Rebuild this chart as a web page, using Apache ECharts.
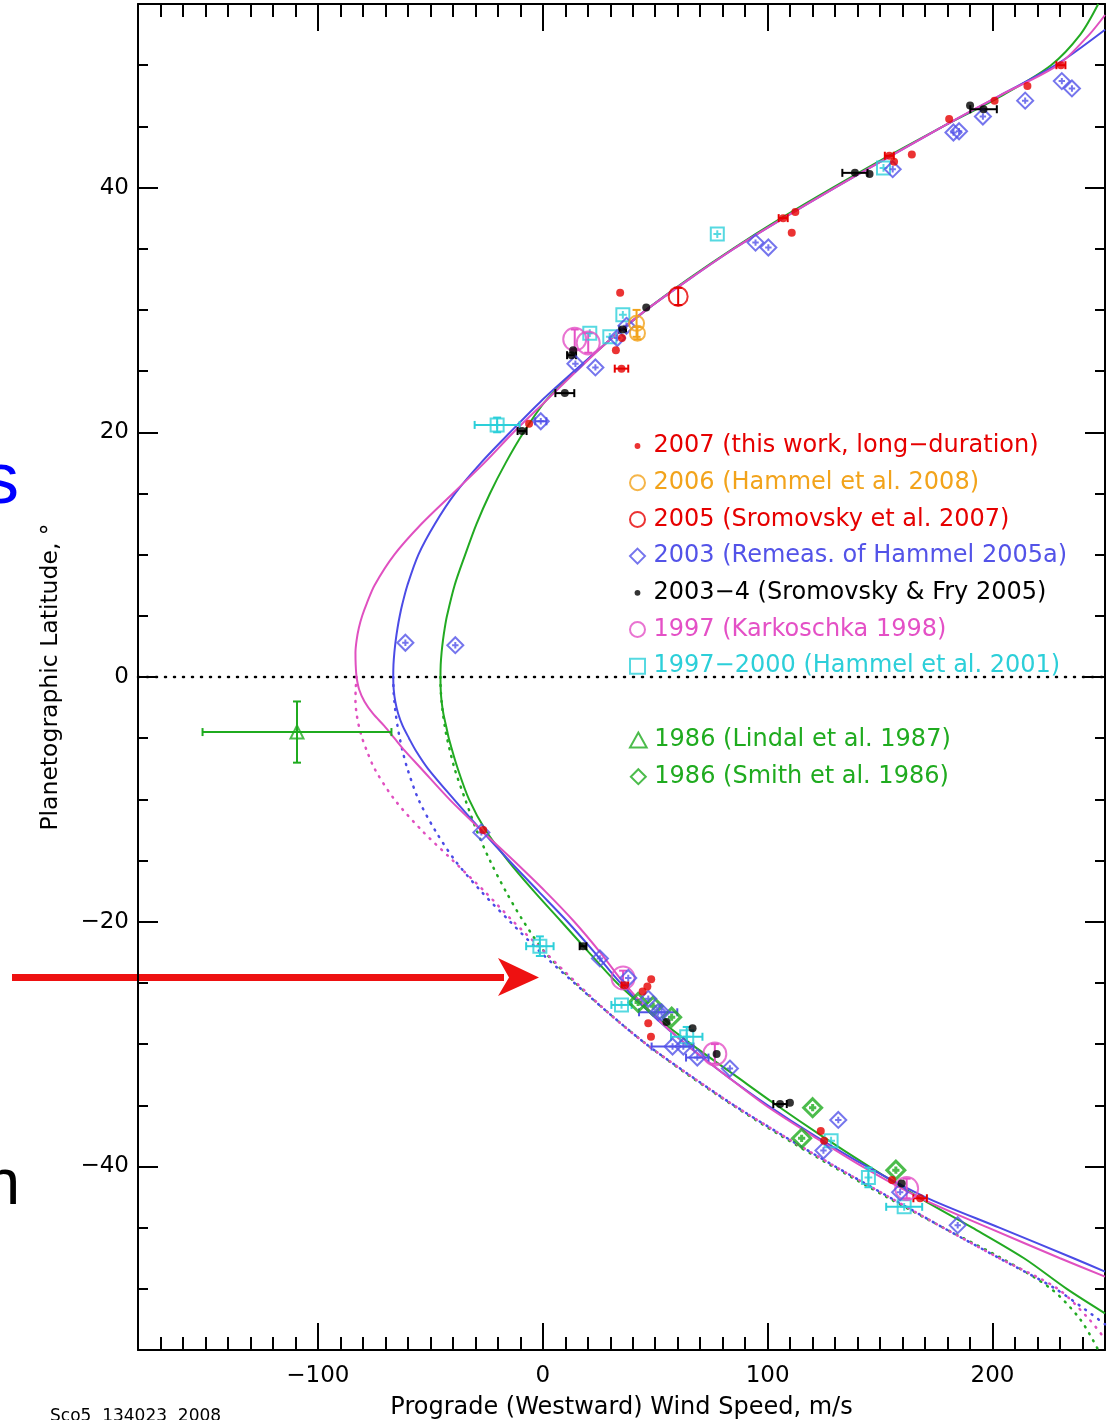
<!DOCTYPE html>
<html lang="en">
<head>
<meta charset="UTF-8">
<title>Uranus zonal wind profile</title>
<script src="https://cdn.jsdelivr.net/npm/echarts@6.0.0/dist/echarts.min.js"></script>
<style>
  * { margin: 0; padding: 0; box-sizing: border-box; }
  body { background: #fff; }
  #chart { width: 1109px; height: 1420px; }
</style>
</head>
<body>
<div id="chart"></div>
<script>
// observations: [wind speed m/s, latitude deg, speed error, latitude error]
const obs2007 = [
  [230.4, 50.0, 2, 0], [215.5, 48.3, 0, 0], [200.9, 47.1, 0, 0], [180.7, 45.6, 0, 0],
  [164.1, 42.7, 0, 0], [154.1, 42.6, 2, 0], [156.2, 42.1, 0, 0], [112.3, 38.0, 0, 0],
  [106.9, 37.5, 2, 0], [110.7, 36.3, 0, 0], [34.4, 31.4, 0, 0], [35.2, 27.7, 0, 0],
  [32.5, 26.7, 0, 0], [35.0, 25.2, 3, 0], [-6.1, 20.7, 0, 0], [-26.5, -12.5, 0, 0],
  [48.2, -24.7, 0, 0], [36.5, -25.2, 1.5, 0], [44.4, -25.7, 0, 0], [46.5, -25.3, 0, 0],
  [46.9, -28.3, 0, 0], [48.1, -29.4, 0, 0], [123.6, -37.1, 0, 0], [125.1, -37.9, 0, 0],
  [155.3, -41.1, 0, 0], [167.8, -42.6, 3, 0]
];
const obs2006 = [[41.7, 28.9, 0, 1.1], [42.1, 28.1, 0, 0.5]];
const obs2005 = [[60.2, 31.1, 0, 0.7]];
const obs2003 = [
  [230.8, 48.7, 0, 0], [235.3, 48.1, 0, 0], [214.5, 47.1, 0, 0], [195.7, 45.8, 0, 0],
  [182.6, 44.5, 0, 0], [185.1, 44.6, 0, 0], [155.6, 41.5, 0, 0], [94.6, 35.5, 0, 0],
  [100.3, 35.1, 0, 0], [37.2, 28.7, 0, 0], [33.1, 27.7, 0, 0], [14.5, 25.6, 0, 0],
  [23.4, 25.3, 0, 0], [-0.9, 20.9, 2.5, 0], [-61.1, 2.8, 0, 0], [-38.9, 2.6, 0, 0],
  [-27.3, -12.7, 0, 0], [25.4, -23.0, 0, 0], [38.0, -24.6, 0, 0], [46.9, -26.3, 0, 0],
  [51.3, -27.4, 8.5, 0], [52.8, -27.4, 0, 0], [57.7, -30.2, 9.3, 0], [62.5, -30.2, 0, 0],
  [68.7, -31.1, 5, 0], [83.2, -32.0, 0, 0], [131.4, -36.2, 0, 0], [124.8, -38.7, 0, 0],
  [158.9, -42.1, 0, 0], [184.5, -44.8, 0, 0]
];
const obs2003_4 = [
  [138.8, 41.2, 5.6, 0], [145.3, 41.1, 0, 0], [190.0, 46.7, 0, 0], [196.0, 46.4, 5.9, 0],
  [46.0, 30.2, 0, 0], [35.5, 28.4, 1.5, 0], [13.5, 26.7, 0, 0], [12.8, 26.3, 2, 0],
  [9.8, 23.2, 4.2, 0], [-9.2, 20.1, 2, 0], [17.9, -22.0, 1.5, 0], [55.0, -28.2, 0, 0],
  [66.6, -28.7, 0, 0], [77.3, -30.8, 0, 0], [105.5, -34.9, 3, 0], [109.9, -34.8, 0, 0],
  [159.6, -41.4, 0, 0]
];
const obs1997 = [
  [14.2, 27.6, 0, 0.8], [20.2, 27.3, 0, 0.8], [35.7, -24.6, 0, 0.6],
  [76.5, -30.8, 0, 0.8], [161.8, -41.8, 0, 0.8]
];
const obs1997_2000 = [
  [77.6, 36.2, 0, 0], [151.5, 41.6, 0, 0], [35.6, 29.6, 0, 0], [20.9, 28.1, 0, 0],
  [29.8, 27.8, 0, 0], [-20.3, 20.6, 10, 0.6], [-1.3, -22.0, 6.1, 0.8], [35.0, -26.8, 4.5, 0],
  [64.0, -29.4, 7, 0.8], [128.2, -37.9, 0, 0], [144.8, -40.9, 0, 0.8], [160.7, -43.3, 8, 0]
];
const obsLindal = [[-109.3, -4.5, 42, 2.5]];
const obsSmith = [
  [42.4, -26.6, 0, 0], [49.1, -26.9, 0, 0], [57.3, -27.8, 0, 0],
  [120.0, -35.2, 0, 0], [115.1, -37.7, 0, 0], [157.0, -40.3, 0, 0]
];

// fitted profiles: [wind speed, latitude]
const fitGreen = [
  [250, -52], [233, -50], [214, -47.5], [191, -45], [167, -42.5], [145, -40], [124, -37.5],
  [104, -35], [85, -32.5], [66, -30], [48.5, -27.5], [33, -25], [20.5, -22.5], [8.3, -20],
  [-4, -17.5], [-15.5, -15], [-25.5, -12.5], [-32.8, -10], [-37.8, -7.5], [-41.8, -5],
  [-43, -4], [-44.2, -3], [-45, -2], [-45.4, -1], [-45.5, 0], [-45.4, 1], [-45, 2],
  [-44.4, 3], [-43.6, 4], [-42.6, 5], [-39.2, 7.5], [-34.5, 10], [-29.5, 12.5], [-23.5, 15],
  [-16.5, 17.5], [-8.5, 20], [1, 22.5], [14.5, 25], [29.5, 27.5], [46, 30], [64.5, 32.5],
  [84.5, 35], [106, 37.5], [129, 40], [153, 42.5], [178, 45], [204, 47.5], [226, 50],
  [239, 52.5], [247, 55]
];
const fitBlue = [
  [250, -48.6], [236, -47.5], [203, -45], [170, -42.5], [144, -40], [121, -37.5], [100, -35],
  [81, -32.5], [63.5, -30], [48, -27.5], [34.5, -25], [23, -22.5], [11, -20], [-2, -17.5],
  [-15, -15], [-27.5, -12.5], [-39.5, -10], [-51, -7.5], [-56.5, -6], [-59.5, -5],
  [-62.3, -4], [-64.3, -3], [-65.6, -2], [-66.3, -1], [-66.5, 0], [-66.4, 1], [-66, 2],
  [-65.4, 3], [-64.6, 4], [-63.6, 5], [-62.4, 6], [-60.2, 7.5], [-55.3, 10], [-48, 12.5],
  [-39, 15], [-27.5, 17.5], [-14.5, 20], [-1, 22.5], [14, 25], [29.5, 27.5], [46, 30],
  [65, 32.5], [85, 35], [107, 37.5], [130, 40], [154, 42.5], [178, 45], [203, 47.5],
  [228, 50], [250, 52.9]
];
const fitPink = [
  [250, -49], [230, -47.5], [198, -45], [167, -42.5], [142, -40], [120, -37.5], [99, -35],
  [81, -32.5], [63.5, -30], [48.5, -27.5], [36, -25], [25.5, -22.5], [14, -20], [1, -17.5],
  [-13, -15], [-27.5, -12.5], [-41.5, -10], [-54, -7.5], [-61.5, -6], [-66, -5],
  [-70.5, -4], [-75.5, -3], [-79.3, -2], [-81.7, -1], [-82.8, 0], [-83.2, 1], [-83.3, 2],
  [-82.8, 3], [-81.8, 4], [-80.3, 5], [-78.3, 6], [-74.8, 7.5], [-66, 10], [-54, 12.5],
  [-40, 15], [-26, 17.5], [-13, 20], [1, 22.5], [15, 25], [29.5, 27.5], [46, 30],
  [65, 32.5], [85, 35], [107, 37.5], [130, 40], [154, 42.5], [178, 45], [203, 47.5],
  [229, 50], [243, 52.5], [250, 54.1]
];
// northern profiles reflected into the south (dotted)
const dotGreen = [
  [-45.5, 0], [-45.4, -1], [-45, -2], [-44.4, -3], [-43.6, -4], [-42.6, -5], [-39.2, -7.5],
  [-34.5, -10], [-29.5, -12.5], [-23.5, -15], [-16.5, -17.5], [-8.5, -20], [1, -22.5],
  [14.5, -25], [29.5, -27.5], [46, -30], [64.5, -32.5], [84.5, -35], [106, -37.5],
  [129, -40], [153, -42.5], [178, -45], [204, -47.5], [226, -50], [239, -52.5], [247, -55]
];
const dotBlue = [
  [-66.5, 0], [-66.4, -1], [-66, -2], [-65.4, -3], [-64.6, -4], [-63.6, -5], [-62.4, -6],
  [-60.2, -7.5], [-55.3, -10], [-48, -12.5], [-39, -15], [-27.5, -17.5], [-14.5, -20],
  [-1, -22.5], [14, -25], [29.5, -27.5], [46, -30], [65, -32.5], [85, -35], [107, -37.5],
  [130, -40], [154, -42.5], [178, -45], [203, -47.5], [228, -50], [250, -52.9]
];
const dotPink = [
  [-82.8, 0], [-83.2, -1], [-83.3, -2], [-82.8, -3], [-81.8, -4], [-80.3, -5], [-78.3, -6],
  [-74.8, -7.5], [-66, -10], [-54, -12.5], [-40, -15], [-26, -17.5], [-13, -20], [1, -22.5],
  [15, -25], [29.5, -27.5], [46, -30], [65, -32.5], [85, -35], [107, -37.5], [130, -40],
  [154, -42.5], [178, -45], [203, -47.5], [229, -50], [243, -52.5], [250, -54.1]
];
const equator = [[-180, 0], [250, 0]];

const xMajor = [-100, 0, 100, 200];
const yMajor = [-40, -20, 0, 20, 40];

const RED = '#e60000', ORANGE = '#f2a31b', BLUE = '#5353e8', PINK = '#e450c6',
  CYAN = '#2ccfd9', GREEN = '#1fab1f', BLACK = '#000';
const FONT = 'DejaVu Sans';

const diamondPath = 'path://M0,-10L10,0L0,10L-10,0Z M0,-4L0,4 M-4,0L4,0';
const squarePath = 'path://M-10,-10L10,-10L10,10L-10,10Z M0,-6L0,6 M-6,0L6,0';
// legend icons kept square / small
const dotIcon = 'path://M-9,-9M9,9M3.5,0A3.5,3.5,0,1,1,-3.5,0A3.5,3.5,0,1,1,3.5,0Z';
const diamondIcon = 'path://M0,-10L10,0L0,10L-10,0Z';
const squareIcon = 'path://M-9,-9L9,-9L9,9L-9,9Z';
const triangleIcon = 'path://M0,-10L10,8L-10,8Z';

const minus = v => String(v).replace('-', '\u2212');

function axisX(pos, major) {
  return {
    type: 'value', min: -180, max: 250, position: pos,
    interval: major ? undefined : 10,
    axisLine: { show: !major, onZero: false, lineStyle: { color: BLACK, width: 2 } },
    axisTick: major
      ? { inside: true, length: 27, customValues: xMajor, lineStyle: { color: BLACK, width: 2 } }
      : { inside: true, length: 13, lineStyle: { color: BLACK, width: 2 } },
    axisLabel: { show: false },
    splitLine: { show: false }
  };
}
function axisY(pos, major) {
  return {
    type: 'value', min: -55, max: 55, position: pos,
    interval: major ? undefined : 5,
    axisLine: { show: !major, onZero: false, lineStyle: { color: BLACK, width: 2 } },
    axisTick: major
      ? { inside: true, length: 20, customValues: yMajor, lineStyle: { color: BLACK, width: 2 } }
      : { inside: true, length: 10, lineStyle: { color: BLACK, width: 2 } },
    axisLabel: { show: false },
    splitLine: { show: false }
  };
}

const xAxes = [axisX('bottom', false), axisX('bottom', true), axisX('top', false), axisX('top', true)];
Object.assign(xAxes[0], {
  axisLabel: { show: true, customValues: xMajor, formatter: minus, margin: 15, color: BLACK, fontSize: 23, fontFamily: FONT },
  name: 'Prograde (Westward) Wind Speed, m/s', nameLocation: 'middle', nameGap: 46,
  nameTextStyle: { color: BLACK, fontSize: 24, fontFamily: FONT }
});
const yAxes = [axisY('left', false), axisY('left', true), axisY('right', false), axisY('right', true)];
Object.assign(yAxes[0], {
  axisLabel: { show: true, customValues: yMajor, formatter: minus, margin: 9, color: BLACK, fontSize: 23, fontFamily: FONT },
  name: 'Planetographic Latitude, \u00b0', nameLocation: 'middle', nameGap: 75,
  nameTextStyle: { color: BLACK, fontSize: 23.5, fontFamily: FONT }
});

function curve(data, color, dotted) {
  return {
    type: 'line', data: data, smooth: 0.3, showSymbol: false, symbol: 'none', silent: true, z: 2,
    lineStyle: dotted
      ? { color: color, width: 2.5, type: [1, 7], cap: 'round' }
      : { color: color, width: 2 }
  };
}

function scatter(name, data, symbol, size, style, z) {
  return {
    name: name, type: 'scatter', data: data.map(d => [d[0], d[1]]),
    symbol: symbol, symbolSize: size, itemStyle: style, silent: true, z: z || 5
  };
}

function errorBars(data, color) {
  return {
    type: 'custom', silent: true, z: 4,
    data: data.filter(d => d[2] > 0 || d[3] > 0),
    encode: { x: 0, y: 1 },
    renderItem: function (params, api) {
      const v = api.value(0), lat = api.value(1), ex = api.value(2), ey = api.value(3);
      const st = { stroke: color, lineWidth: 2 };
      const kids = [];
      const seg = (x1, y1, x2, y2) => kids.push({ type: 'line', shape: { x1, y1, x2, y2 }, style: st });
      if (ex > 0) {
        const a = api.coord([v - ex, lat]), b = api.coord([v + ex, lat]);
        seg(a[0], a[1], b[0], b[1]);
        seg(a[0], a[1] - 4, a[0], a[1] + 4);
        seg(b[0], b[1] - 4, b[0], b[1] + 4);
      }
      if (ey > 0) {
        const a = api.coord([v, lat + ey]), b = api.coord([v, lat - ey]);
        seg(a[0], a[1], b[0], b[1]);
        seg(a[0] - 4, a[1], a[0] + 4, a[1]);
        seg(b[0] - 4, b[1], b[0] + 4, b[1]);
      }
      return { type: 'group', children: kids };
    }
  };
}

const open = c => ({ color: 'rgba(0,0,0,0)', borderColor: c, borderWidth: 2 });

const N2007 = '2007 (this work, long\u2212duration)';
const N2006 = '2006 (Hammel et al. 2008)';
const N2005 = '2005 (Sromovsky et al. 2007)';
const N2003 = '2003 (Remeas. of Hammel 2005a)';
const N2003_4 = '2003\u22124 (Sromovsky & Fry 2005)';
const N1997 = '1997 (Karkoschka 1998)';
const N1997_2000 = '1997\u22122000 (Hammel et al. 2001)';
const NLindal = '1986 (Lindal et al. 1987)';
const NSmith = '1986 (Smith et al. 1986)';

const legendText = { fontSize: 24, fontFamily: FONT, lineHeight: 24 };
const legendBase = {
  orient: 'vertical', left: 629, padding: 0, itemWidth: 22, itemHeight: 15, itemGap: 12.7,
  selectedMode: false, textStyle: legendText
};

const chart = echarts.init(document.getElementById('chart'), null, { renderer: 'canvas' });
chart.setOption({
  backgroundColor: '#fff',
  animation: false,
  grid: { left: 138, right: 4, top: 4, bottom: 70, containLabel: false, outerBoundsMode: 'none' },
  xAxis: xAxes,
  yAxis: yAxes,
  legend: [
    Object.assign({}, legendBase, {
      top: 434,
      data: [
        { name: N2007, icon: dotIcon, itemStyle: { color: RED }, textStyle: { color: RED } },
        { name: N2006, icon: 'circle', itemStyle: open(ORANGE), textStyle: { color: ORANGE } },
        { name: N2005, icon: 'circle', itemStyle: open(RED), textStyle: { color: RED } },
        { name: N2003, icon: diamondIcon, itemStyle: open(BLUE), textStyle: { color: BLUE } },
        { name: N2003_4, icon: dotIcon, itemStyle: { color: BLACK }, textStyle: { color: BLACK } },
        { name: N1997, icon: 'circle', itemStyle: open(PINK), textStyle: { color: PINK } },
        { name: N1997_2000, icon: squareIcon, itemStyle: open(CYAN), textStyle: { color: CYAN } }
      ]
    }),
    Object.assign({}, legendBase, {
      top: 728,
      data: [
        { name: NLindal, icon: triangleIcon, itemStyle: open(GREEN), textStyle: { color: GREEN } },
        { name: NSmith, icon: diamondIcon, itemStyle: open(GREEN), textStyle: { color: GREEN } }
      ]
    })
  ],
  series: [
    { type: 'line', data: equator, showSymbol: false, symbol: 'none', silent: true, z: 1,
      lineStyle: { color: BLACK, width: 2.5, type: [1, 8], cap: 'round' } },
    curve(dotGreen, '#22aa22', true),
    curve(dotBlue, '#4b4be6', true),
    curve(dotPink, '#e050c0', true),
    curve(fitGreen, '#22aa22', false),
    curve(fitBlue, '#4b4be6', false),
    curve(fitPink, '#e050c0', false),

    errorBars(obsLindal, GREEN),
    errorBars(obs1997_2000, CYAN),
    errorBars(obs1997, PINK),
    errorBars(obs2003, BLUE),
    errorBars(obs2003_4, BLACK),
    errorBars(obs2006, ORANGE),
    errorBars(obs2005, RED),
    errorBars(obs2007, RED),

    scatter(NLindal, obsLindal, 'triangle', 13, open(GREEN)),
    scatter(NSmith, obsSmith, diamondPath, 18, { color: 'rgba(0,0,0,0)', borderColor: GREEN, borderWidth: 3 }),
    scatter(N1997_2000, obs1997_2000, squarePath, 13, open(CYAN)),
    scatter(N1997, obs1997, 'circle', 23, open(PINK)),
    scatter(N2003, obs2003, diamondPath, 16, open(BLUE)),
    scatter(N2006, obs2006, 'circle', 15, open(ORANGE)),
    scatter(N2005, obs2005, 'circle', 19, open(RED)),
    scatter(N2003_4, obs2003_4, 'circle', 8, { color: BLACK }, 6),
    scatter(N2007, obs2007, 'circle', 8, { color: RED }, 6)
  ],
  graphic: {
    elements: [
      { type: 'rect', shape: { x: 12, y: 974, width: 492, height: 7 }, style: { fill: '#ee1111' }, silent: true },
      { type: 'polygon', shape: { points: [[498, 958], [539, 977.5], [498, 996], [509, 977.5]] },
        style: { fill: '#ee1111' }, silent: true },
      { type: 'text', x: 19, y: 483, silent: true,
        style: { text: 's', fill: '#0000ff', font: '72px "Liberation Sans"', align: 'right', verticalAlign: 'middle' } },
      { type: 'text', x: 20, y: 1186, silent: true,
        style: { text: 'n', fill: '#000', font: '64px "Liberation Sans"', align: 'right', verticalAlign: 'middle' } },
      { type: 'text', x: 50, y: 1408, silent: true,
        style: { text: 'Sco5  134023  2008', fill: '#000', font: '17px "DejaVu Sans"', verticalAlign: 'top' } }
    ]
  }
});
</script>
</body>
</html>
